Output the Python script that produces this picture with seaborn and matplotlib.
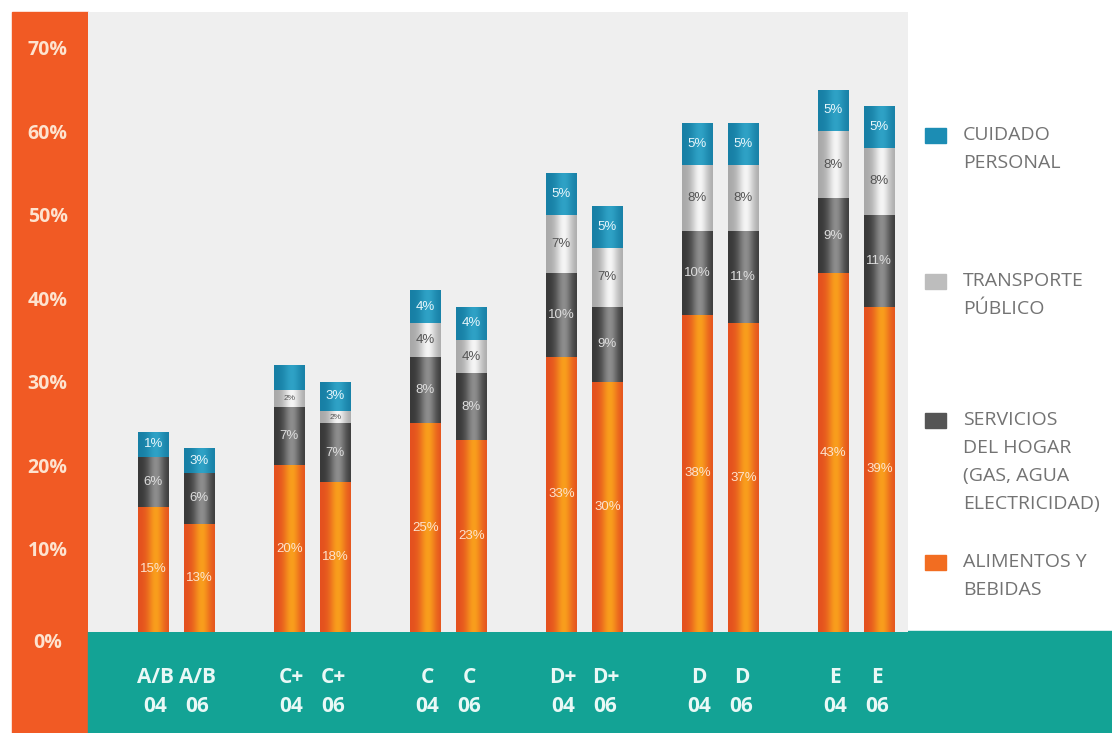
import numpy as np
import pandas as pd
import matplotlib
matplotlib.use("Agg")
import matplotlib.pyplot as plt
import seaborn as sns
from matplotlib.patches import Rectangle
from matplotlib.colors import to_rgb
from matplotlib import transforms

# ---------------- data ----------------
groups = ["A/B", "C+", "C", "D+", "D", "E"]
years = ["04", "06"]

alimentos_04 = [15, 20, 25, 33, 38, 43]
alimentos_06 = [13, 18, 23, 30, 37, 39]
servicios_04 = [6, 7, 8, 10, 10, 9]
servicios_06 = [6, 7, 8, 9, 11, 11]
transporte_04 = [0, 2, 4, 7, 8, 8]
transporte_06 = [0, 1.5, 4, 7, 8, 8]
cuidado_04 = [3, 3, 4, 5, 5, 5]
cuidado_06 = [3, 3.5, 4, 5, 5, 5]

# printed labels (as they appear on the chart)
txt_alimentos_04 = ["15%", "20%", "25%", "33%", "38%", "43%"]
txt_alimentos_06 = ["13%", "18%", "23%", "30%", "37%", "39%"]
txt_servicios_04 = ["6%", "7%", "8%", "10%", "10%", "9%"]
txt_servicios_06 = ["6%", "7%", "8%", "9%", "11%", "11%"]
txt_transporte_04 = ["", "2%", "4%", "7%", "8%", "8%"]
txt_transporte_06 = ["", "2%", "4%", "7%", "8%", "8%"]
txt_cuidado_04 = ["1%", "", "4%", "5%", "5%", "5%"]
txt_cuidado_06 = ["3%", "3%", "4%", "5%", "5%", "5%"]

series_names = ["ALIMENTOS Y\nBEBIDAS",
                "SERVICIOS\nDEL HOGAR\n(GAS, AGUA\nELECTRICIDAD)",
                "TRANSPORTE\nPÚBLICO",
                "CUIDADO\nPERSONAL"]
y_ticks = [0, 10, 20, 30, 40, 50, 60, 70]
y_ticklabels = ["0%", "10%", "20%", "30%", "40%", "50%", "60%", "70%"]

series_values = [
    (alimentos_04, alimentos_06),
    (servicios_04, servicios_06),
    (transporte_04, transporte_06),
    (cuidado_04, cuidado_06),
]
series_texts = [
    (txt_alimentos_04, txt_alimentos_06),
    (txt_servicios_04, txt_servicios_06),
    (txt_transporte_04, txt_transporte_06),
    (txt_cuidado_04, txt_cuidado_06),
]

# ---------------- style ----------------
base_colors = ["#f26d21", "#555555", "#cfcfcf", "#1c8db4"]
edge_colors = ["#e4501f", "#383838", "#a8a8a8", "#177fa5"]
center_colors = ["#f99e1c", "#8d8d8d", "#f5f5f5", "#2fa2c6"]
text_colors = ["#fde4cf", "#dddddd", "#555555", "#e8f6fb"]

sns.set_style("white")
plt.rcParams["font.family"] = ["Open Sans", "DejaVu Sans"]

W, H = 1112, 733
fig = plt.figure(figsize=(W / 100, H / 100), dpi=100)
fig.patch.set_facecolor("white")

# background decorations (figure coords), drawn beneath the axes
fig.patches.append(Rectangle((12 / W, 0), (88 - 12) / W, (H - 12) / H,
                             transform=fig.transFigure, color="#f15a24", zorder=-5))
fig.patches.append(Rectangle((88 / W, 0), 1 - 88 / W, 102 / H,
                             transform=fig.transFigure, color="#13a395", zorder=-5))

ax = fig.add_axes([88 / W, 101 / H, 820 / W, (632 - 12) / H])
ax.set_facecolor("#efefef")

# ---------------- stacked bars (cumulative overlay) ----------------
cums = []
run = [np.zeros(len(groups)), np.zeros(len(groups))]
for k, (v04, v06) in enumerate(series_values):
    run = [run[0] + np.array(v04, float), run[1] + np.array(v06, float)]
    cums.append((run[0].copy(), run[1].copy()))

layer_containers = {}
for k in range(3, -1, -1):
    rows = []
    for yi, yr in enumerate(years):
        for gi, g in enumerate(groups):
            rows.append({"grupo": g, "año": yr, "acum": cums[k][yi][gi]})
    df = pd.DataFrame(rows)
    n_before = len(ax.containers)
    sns.barplot(data=df, x="grupo", y="acum", hue="año", order=groups,
                hue_order=years, palette={y: base_colors[k] for y in years},
                width=0.676, gap=0.33, saturation=1, errorbar=None,
                legend=False, linewidth=0, ax=ax)
    layer_containers[k] = ax.containers[n_before:]


def shade(patch, edge, center, z):
    x0, y0 = patch.get_x(), patch.get_y()
    w, h = patch.get_width(), patch.get_height()
    if h <= 0:
        return
    t = np.linspace(0, 1, 64)
    prof = np.exp(-((t - 0.58) / 0.27) ** 2)
    e = np.array(to_rgb(edge))
    c = np.array(to_rgb(center))
    cols = e[None, :] * (1 - prof[:, None]) + c[None, :] * prof[:, None]
    im = ax.imshow(cols[None, :, :], extent=(x0, x0 + w, y0, y0 + h),
                   aspect="auto", zorder=z, interpolation="bilinear")
    im.set_clip_path(patch)


draw_order = [3, 2, 1, 0]
for d, k in enumerate(draw_order):
    for cont in layer_containers[k]:
        for p in cont.patches:
            p.set_zorder(2 + 2 * d)
            shade(p, edge_colors[k], center_colors[k], 3 + 2 * d)

# segment labels
for k in range(4):
    for yi in range(2):
        cont = layer_containers[k][yi]
        vals = series_values[k][yi]
        txts = series_texts[k][yi]
        for gi, p in enumerate(cont.patches):
            top = cums[k][yi][gi]
            mid = top - vals[gi] / 2
            if txts[gi]:
                ax.text(p.get_x() + p.get_width() / 2, mid, txts[gi],
                        ha="center", va="center",
                        fontsize=9.5 if (k != 2 or vals[gi] > 3) else 6,
                        color=text_colors[k], zorder=30,
                        family=["Liberation Sans Narrow", "Liberation Sans", "DejaVu Sans"])

# ---------------- axes ----------------
ax.set_xlim(-0.65, 5.38)
ax.set_ylim(0, 74.3)
for s in ax.spines.values():
    s.set_visible(False)
ax.set_xlabel("")
ax.set_ylabel("")

xt_pos, xt_lab = [], []
for gi, g in enumerate(groups):
    for yi, yr in enumerate(years):
        xt_pos.append(gi + (-0.155 if yi == 0 else 0.155))
        xt_lab.append(f"{g}\n{yr}")
ax.set_xticks(xt_pos)
ax.set_xticklabels(xt_lab, fontsize=15, fontweight="bold", color="#e9f8f6",
                   linespacing=1.5)
ax.tick_params(axis="x", length=0, pad=25)

ax.set_yticks(y_ticks)
ax.set_yticklabels(y_ticklabels, fontsize=14, fontweight="bold", color="#fde3cf")
ax.tick_params(axis="y", length=0, pad=29)
for lbl in ax.get_yticklabels():
    lbl.set_horizontalalignment("center")
    if lbl.get_text() == "0%":
        lbl.set_transform(lbl.get_transform() +
                          transforms.ScaledTranslation(0, -0.09, fig.dpi_scale_trans))

# ---------------- legend (manual) ----------------
legend_y = [135, 281, 420, 562]   # first-line centre, px from top
legend_order = [3, 2, 1, 0]
for ly, k in zip(legend_y, legend_order):
    fig.patches.append(Rectangle((925 / W, 1 - (ly + 8) / H), 21 / W, 15 / H,
                                 transform=fig.transFigure,
                                 color=base_colors[k] if k != 2 else "#bdbdbd",
                                 zorder=5))
    for li, line in enumerate(series_names[k].split("\n")):
        fig.text(963 / W, 1 - (ly + 28 * li) / H, line, fontsize=14,
                 color="#737373", va="center", ha="left")

fig.savefig("out.png", dpi=100)
